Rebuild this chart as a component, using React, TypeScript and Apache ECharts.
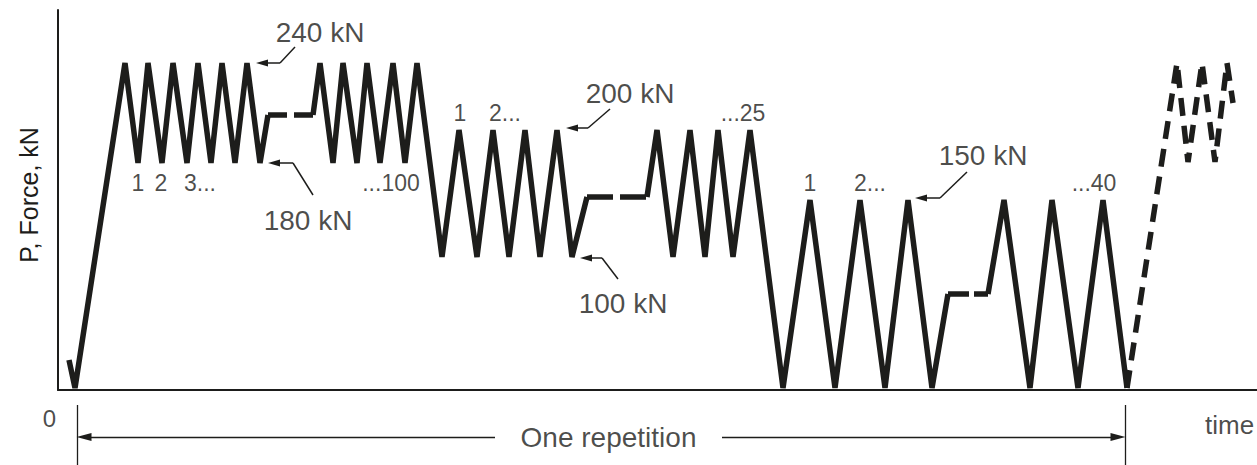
import React, { useEffect, useRef } from "react";
import * as echarts from "echarts";

type Pt = [number, number];

// Schematic load history.
// t = time units along the axis, f = drawn force height (0 = zero load).
const rampAndBlock240: Pt[] = [
  [11, 30], [17, 2], [67, 327], [80, 227], [90, 327], [104, 227], [115, 327],
  [129, 227], [140, 327], [153, 227], [164, 327], [177, 227], [189, 327],
  [202, 227], [210, 275],
];
const hold1: Pt[] = [[210, 275], [255, 275]];
const block240End_block200: Pt[] = [
  [255, 275], [262, 327], [275, 227], [285, 327], [299, 227], [309, 327],
  [322, 227], [335, 327], [347, 227], [359, 327], [384, 133], [401, 260],
  [419, 133], [435, 260], [451, 133], [467, 260], [482, 133], [499, 260],
  [514, 133], [529, 193],
];
const hold2: Pt[] = [[529, 193], [589, 193]];
const block200End_block150: Pt[] = [
  [589, 193], [599, 260], [615, 133], [632, 260], [647, 133], [660, 260],
  [675, 133], [692, 260], [725, 2], [752, 190], [777, 2], [802, 190],
  [827, 2], [850, 190], [874, 2], [890, 96],
];
const hold3: Pt[] = [[890, 96], [930, 96]];
const block150End: Pt[] = [
  [930, 96], [946, 190], [972, 2], [994, 190], [1020, 2], [1045, 190], [1069, 2],
];
const nextRepetition: Pt[] = [
  [1069, 2], [1119, 327], [1130, 228], [1144, 327], [1157, 228], [1169, 327], [1175, 287],
];

// Annotations
const loadLabels = ["240 kN", "180 kN", "200 kN", "100 kN", "150 kN"];
const loadLabelPos: Pt[] = [[262, 358], [250, 170], [572, 297], [565, 87], [925, 235]];
const leaderStart: Pt[] = [[237, 343], [255, 195], [552, 281], [560, 111], [909, 218]];
const leaderBend: Pt[] = [[222, 327], [235, 227], [530, 262], [544, 132], [882, 192]];
const leaderTip: Pt[] = [[204, 327], [216, 227], [514, 262], [528, 132], [863, 192]];

const cycleLabels = ["1", "2", "3...", "...100", "1", "2...", "...25", "1", "2...", "...40"];
const cycleLabelPos: Pt[] = [
  [80, 207], [103, 207], [142, 207], [333, 207],
  [402, 277], [447, 277], [685, 277],
  [752, 207], [812, 207], [1036, 207],
];

// Dimension line "One repetition" (lower band)
const repStart = 19;
const repEnd = 1067;
const repGapLeft = 437;
const repGapRight = 664;

const FONT = '"Liberation Sans", Arial, Helvetica, sans-serif';
const INK = "#1d1d1b";

export default function App() {
  const ref = useRef<HTMLDivElement>(null);

  useEffect(() => {
    if (!ref.current) return;
    const chart = echarts.init(ref.current, undefined, { renderer: "svg" });

    const thick = { width: 5.5, color: INK, join: "bevel", cap: "butt" } as any;
    const lineSeries = (data: Pt[], type: any) => ({
      type: "line",
      xAxisIndex: 0,
      yAxisIndex: 0,
      data,
      symbol: "none",
      clip: false,
      silent: true,
      lineStyle: { ...thick, type },
    });

    const arrowEnd = (size: number[]) => ({ symbol: "triangle", symbolSize: size });

    const option: any = {
      animation: false,
      backgroundColor: "#ffffff",
      textStyle: { fontFamily: FONT, color: INK },
      grid: [
        { left: 58, right: 0, top: 10, height: 380 },
        { left: 58, right: 0, top: 398, height: 67 },
      ],
      xAxis: [
        {
          type: "value", gridIndex: 0, min: 0, max: 1199,
          axisLine: { show: true, onZero: false, lineStyle: { color: INK, width: 2 } },
          axisTick: { show: false }, axisLabel: { show: false }, splitLine: { show: false },
        },
        {
          type: "value", gridIndex: 1, min: 0, max: 1199, show: false,
        },
      ],
      yAxis: [
        {
          type: "value", gridIndex: 0, min: 0, max: 380,
          name: "P, Force, kN",
          nameLocation: "middle",
          nameRotate: 90,
          nameGap: 17,
          nameTextStyle: { fontSize: 25, color: INK, fontFamily: FONT, padding: [0, 0, 0, 10] },
          axisLine: { show: true, onZero: false, lineStyle: { color: INK, width: 2 } },
          axisTick: { show: false }, axisLabel: { show: false }, splitLine: { show: false },
        },
        { type: "value", gridIndex: 1, min: 0, max: 67, show: false },
      ],
      series: [
        lineSeries(rampAndBlock240, "solid"),
        lineSeries(hold1, [19, 7]),
        lineSeries(block240End_block200, "solid"),
        lineSeries(hold2, [26, 7]),
        lineSeries(block200End_block150, "solid"),
        lineSeries(hold3, [21, 5]),
        lineSeries(block150End, "solid"),
        lineSeries(nextRepetition, [18, 10]),
        {
          type: "scatter",
          xAxisIndex: 0,
          yAxisIndex: 0,
          symbolSize: 0,
          silent: true,
          data: [
            ...loadLabels.map((t, i) => ({
              value: loadLabelPos[i],
              label: { show: true, position: "inside", formatter: t, fontSize: 28, color: INK, fontFamily: FONT },
            })),
            ...cycleLabels.map((t, i) => ({
              value: cycleLabelPos[i],
              label: { show: true, position: "inside", formatter: t, fontSize: 23, color: INK, fontFamily: FONT },
            })),
          ],
          markLine: {
            silent: true,
            symbol: ["none", "none"],
            label: { show: false },
            lineStyle: { color: INK, width: 1.5, type: "solid" },
            data: [
              ...leaderStart.map((s, i) => [{ coord: s }, { coord: leaderBend[i] }]),
              ...leaderBend.map((b, i) => [
                { coord: b },
                { coord: leaderTip[i], ...arrowEnd([7, 12]) },
              ]),
            ],
          },
        },
        {
          type: "scatter",
          xAxisIndex: 1,
          yAxisIndex: 1,
          symbolSize: 0,
          silent: true,
          data: [
            {
              value: [0, 47],
              label: { show: true, position: "left", distance: 2, formatter: "0", fontSize: 24, color: INK, fontFamily: FONT },
            },
            {
              value: [(repGapLeft + repGapRight) / 2, 28],
              label: { show: true, position: "inside", formatter: "One repetition", fontSize: 28, color: INK, fontFamily: FONT },
            },
            {
              value: [1147, 40],
              label: { show: true, position: "right", distance: 0, formatter: "time", fontSize: 26, color: INK, fontFamily: FONT },
            },
          ],
          markLine: {
            silent: true,
            symbol: ["none", "none"],
            label: { show: false },
            lineStyle: { color: INK, width: 1.3, type: "solid" },
            data: [
              [{ coord: [repStart, 60] }, { coord: [repStart, 0] }],
              [{ coord: [repEnd, 60] }, { coord: [repEnd, 0] }],
              [{ coord: [repGapLeft, 28] }, { coord: [repStart + 7, 28], ...arrowEnd([8, 15]) }],
              [{ coord: [repGapRight, 28] }, { coord: [repEnd - 7, 28], ...arrowEnd([8, 15]) }],
            ],
          },
        },
      ],
    };

    chart.setOption(option);
    return () => chart.dispose();
  }, []);

  return (
    <div
      ref={ref}
      style={{ position: "fixed", left: 0, top: 0, width: 1257, height: 465, background: "#fff" }}
    />
  );
}
